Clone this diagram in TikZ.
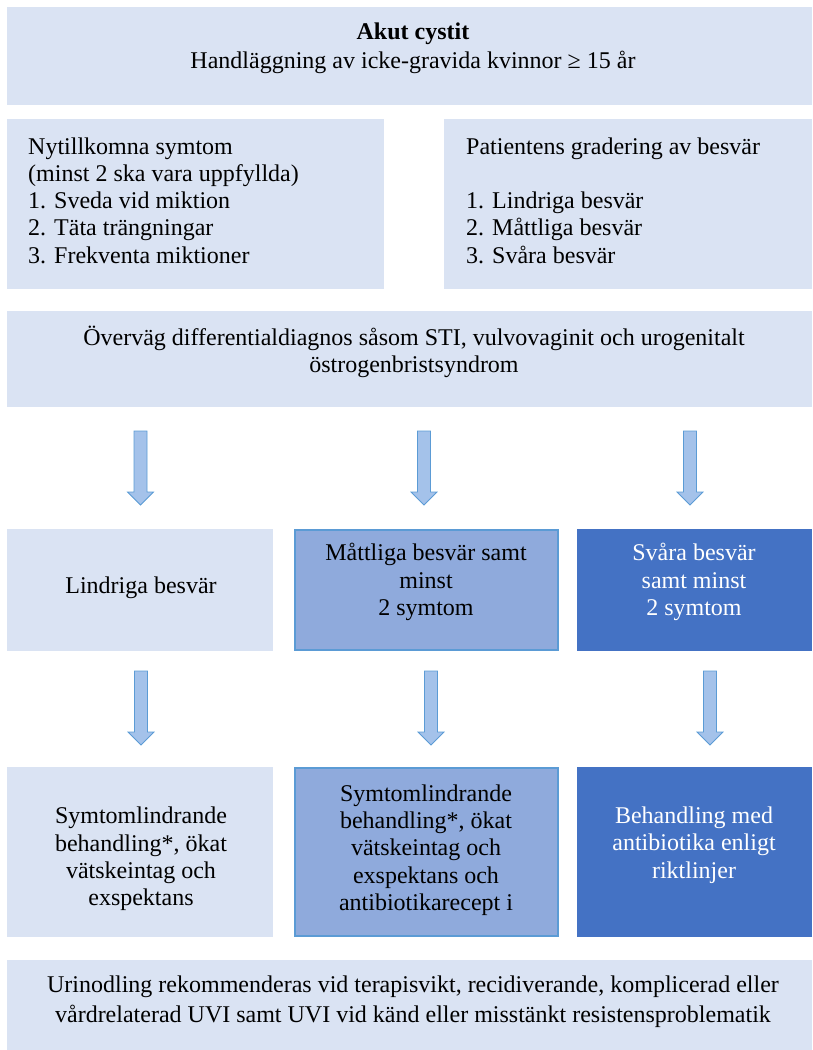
\documentclass[tikz,border=0pt]{standalone}
\usepackage{fontspec}
\setmainfont{Liberation Serif}
\definecolor{boxlight}{HTML}{DAE3F3}
\definecolor{boxmid}{HTML}{8FAADC}
\definecolor{boxmidline}{HTML}{5B9BD5}
\definecolor{boxdark}{HTML}{4472C4}
\definecolor{arrowfill}{HTML}{A4C2EA}
\definecolor{arrowline}{HTML}{5B9BD5}
\newcommand{\blockarrow}[4]{% name, x, ytop, ytip
  \coordinate (#1) at (#2,#3);
  \draw[arrowline, fill=arrowfill, line width=0.8pt]
    ($(#1)+(-6.5,0)$) -- ($(#1)+(6.5,0)$) -- ($(#1)+(6.5,#4-#3-13)$)
    -- ($(#1)+(13,#4-#3-13)$) -- ($(#1)+(0,#4-#3)$) -- ($(#1)+(-13,#4-#3-13)$)
    -- ($(#1)+(-6.5,#4-#3-13)$) -- cycle;}
\usetikzlibrary{calc}
\begin{document}
\begin{tikzpicture}[x=1pt,y=-1pt,
  lightbox/.style={fill=boxlight, draw=none},
  midbox/.style={fill=boxmid, draw=boxmidline, line width=1.5pt},
  darkbox/.style={fill=boxdark, draw=none},
  txt/.style={inner sep=0pt, font=\fontsize{24}{27.3}\selectfont},
  ctxt/.style={txt, align=center},
  ltxt/.style={txt, align=left, anchor=west},
  wtxt/.style={ctxt, text=white}]
\useasboundingbox (0,0) rectangle (812,1050);
% boxes
\path[lightbox] (7,7) rectangle (812,105);
\path[lightbox] (7,119) rectangle (384,289);
\path[lightbox] (444,119) rectangle (812,289);
\path[lightbox] (7,311) rectangle (812,407);
\path[lightbox] (7,529) rectangle (273,651);
\path[midbox] (295,530) rectangle (558,650);
\path[darkbox] (577,529) rectangle (812,651);
\path[lightbox] (7,767) rectangle (273,937);
\path[midbox] (295,768) rectangle (558,936);
\path[darkbox] (577,767) rectangle (812,937);
\path[lightbox] (7,960) rectangle (812,1050);
% texts
\node[ctxt] (title) at (413,34) {\bfseries Akut cystit};
\node[ctxt] (subtitle) at (413,62) {Handläggning av icke-gravida kvinnor ≥ 15 år};
\node[ltxt] (symtom) at (28,200.5) {Nytillkomna symtom\\(minst 2 ska vara uppfyllda)\\1. Sveda vid miktion\\2. Täta trängningar\\3. Frekventa miktioner};
\node[ltxt] (grad) at (466,200.5) {Patientens gradering av besvär\\[27.3pt]1. Lindriga besvär\\2. Måttliga besvär\\3. Svåra besvär};
\node[ctxt] (diff) at (414,352) {Överväg differentialdiagnos såsom STI, vulvovaginit och urogenitalt\\östrogenbristsyndrom};
\node[ctxt] (lind) at (141,588) {Lindriga besvär};
\node[ctxt] (matt) at (426,582) {Måttliga besvär samt\\minst\\2 symtom};
\node[wtxt] (svar) at (694,582) {Svåra besvär\\samt minst\\2 symtom};
\node[ctxt] (lindb) at (141,859) {Symtomlindrande\\behandling*, ökat\\vätskeintag och\\exspektans};
\node[ctxt] (mattb) at (426,850) {Symtomlindrande\\behandling*, ökat\\vätskeintag och\\exspektans och\\antibiotikarecept i};
\node[wtxt] (svarb) at (694,845) {Behandling med\\antibiotika enligt\\riktlinjer};
\node[ctxt, font=\fontsize{24}{30}\selectfont] (urin) at (413,1002) {Urinodling rekommenderas vid terapisvikt, recidiverande, komplicerad eller\\vårdrelaterad UVI samt UVI vid känd eller misstänkt resistensproblematik};
% arrows
\blockarrow{a1}{140.5}{431}{505}
\blockarrow{a2}{424}{431}{505}
\blockarrow{a3}{690}{431}{505}
\blockarrow{b1}{141}{671}{745}
\blockarrow{b2}{431}{671}{745}
\blockarrow{b3}{710}{671}{745}
\end{tikzpicture}
\end{document}
